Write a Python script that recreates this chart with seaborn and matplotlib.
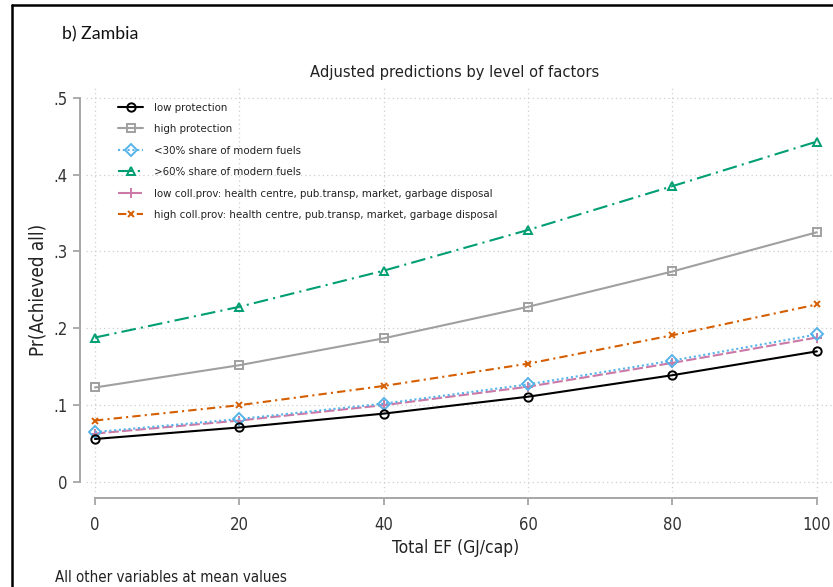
import matplotlib
matplotlib.use("Agg")
import matplotlib.pyplot as plt
from matplotlib.lines import Line2D
import seaborn as sns
import pandas as pd

# ---- data ----
total_ef = [0, 20, 40, 60, 80, 100]
low_protection = [0.056, 0.071, 0.089, 0.111, 0.139, 0.170]
high_protection = [0.123, 0.152, 0.187, 0.228, 0.274, 0.325]
share_lt30 = [0.065, 0.082, 0.102, 0.127, 0.158, 0.192]
share_gt60 = [0.188, 0.228, 0.275, 0.328, 0.385, 0.443]
low_collprov = [0.063, 0.080, 0.100, 0.124, 0.155, 0.188]
high_collprov = [0.080, 0.100, 0.125, 0.154, 0.191, 0.231]

labels = [
    "low protection",
    "high protection",
    "<30% share of modern fuels",
    ">60% share of modern fuels",
    "low coll.prov: health centre, pub.transp, market, garbage disposal",
    "high coll.prov: health centre, pub.transp, market, garbage disposal",
]
series = [low_protection, high_protection, share_lt30, share_gt60, low_collprov, high_collprov]
x_ticks = [0, 20, 40, 60, 80, 100]
y_ticks = [0, 0.1, 0.2, 0.3, 0.4, 0.5]
y_ticklabels = ["0", ".1", ".2", ".3", ".4", ".5"]

colors = ["#000000", "#a0a0a0", "#56B4E9", "#009E73", "#CC79A7", "#D55E00"]
markers = ["o", "s", "D", "^", "+", "x"]
msizes = [6, 6, 6, 6, 7, 5]
styles = ["-", "-", (0, (1, 1.3)), (0, (7, 2.5, 1, 2.5)), (0, (5, 1.5)), (0, (4, 2, 1, 2))]

rows = []
for lab, vals in zip(labels, series):
    for xv, yv in zip(total_ef, vals):
        rows.append({"ef": xv, "pr": yv, "group": lab})
df = pd.DataFrame(rows)

sns.set_theme(style="white")
plt.rcParams["font.family"] = ["DejaVu Sans"]
plt.rcParams["font.stretch"] = "condensed"

W, H = 833, 587
fig = plt.figure(figsize=(W / 100, H / 100), dpi=100)
fig.patch.set_facecolor("white")

ax_l, ax_r, ax_t, ax_b = 86, 832, 87, 492
ax = fig.add_axes([ax_l / W, 1 - ax_b / H, (ax_r - ax_l) / W, (ax_b - ax_t) / H])

for i, lab in enumerate(labels):
    sub = df[df["group"] == lab]
    mfc = colors[i] if markers[i] in ("+", "x") else "none"
    sns.lineplot(data=sub, x="ef", y="pr", ax=ax, color=colors[i], marker=markers[i],
                 markersize=msizes[i], markerfacecolor=mfc, markeredgecolor=colors[i],
                 markeredgewidth=1.4, linewidth=1.5, linestyle=styles[i], label=lab,
                 zorder=3 + (6 - i) * 0.1)

ax.set_xlim(-1.25, 102.1)
ax.set_ylim(-0.013, 0.514)
ax.set_xticks(x_ticks)
ax.set_yticks(y_ticks)
ax.set_yticklabels(y_ticklabels)
ax.grid(True, color="#cfcfcf", linestyle=(0, (1, 2.5)), linewidth=0.9)
for s in ["top", "right"]:
    ax.spines[s].set_visible(False)
for s in ["left", "bottom"]:
    ax.spines[s].set_color("#a6a6a6")
    ax.spines[s].set_linewidth(1.4)
    ax.spines[s].set_position(("outward", 4))
ax.spines["left"].set_bounds(0, 0.5)
ax.spines["bottom"].set_bounds(0, 100)
ax.tick_params(axis="both", which="both", direction="out", length=5, width=1.3,
               bottom=True, left=True, color="#a6a6a6", labelcolor="#333333",
               labelsize=12, pad=4)
ax.tick_params(axis="x", pad=8)

ax.set_xlabel("Total EF (GJ/cap)", fontsize=12.5, color="#222222")
ax.set_ylabel("Pr(Achieved all)", fontsize=13.5, color="#222222")
ax.yaxis.set_label_coords((38 - ax_l) / (ax_r - ax_l), 0.5 - (290 - (ax_t + ax_b) / 2) / (ax_b - ax_t))
ax.xaxis.set_label_coords((456 - ax_l) / (ax_r - ax_l), -(548 - ax_b) / (ax_b - ax_t))
ax.xaxis.label.set_va("center")
ax.yaxis.label.set_va("center")

fig.text(455 / W, 1 - 73 / H, "Adjusted predictions by level of factors", ha="center", va="center",
         fontsize=11.8, color="#222222")
fig.text(62 / W, 1 - 34 / H, "b) Zambia", ha="left", va="center", fontsize=12.8,
         family=["Lato", "DejaVu Sans"], stretch="normal", color="#111111")
fig.text(55 / W, 1 - 577 / H, "All other variables at mean values", ha="left", va="center",
         fontsize=10.8, color="#222222")

leg = ax.legend(loc="upper left", bbox_to_anchor=(118 / W, 1 - 103 / H), bbox_transform=fig.transFigure,
                frameon=False, fontsize=8.2, handlelength=2.2, handletextpad=0.95,
                labelspacing=1.0, borderpad=0, borderaxespad=0)
for t in leg.get_texts():
    t.set_color("#222222")

# outer border (left and top)
fig.add_artist(Line2D([12 / W, 12 / W], [0, 1 - 5 / H], transform=fig.transFigure, color="black", lw=1.8))
fig.add_artist(Line2D([12 / W, 1], [1 - 5 / H, 1 - 5 / H], transform=fig.transFigure, color="black", lw=1.8))

fig.savefig("out.png", dpi=100, facecolor="white")
